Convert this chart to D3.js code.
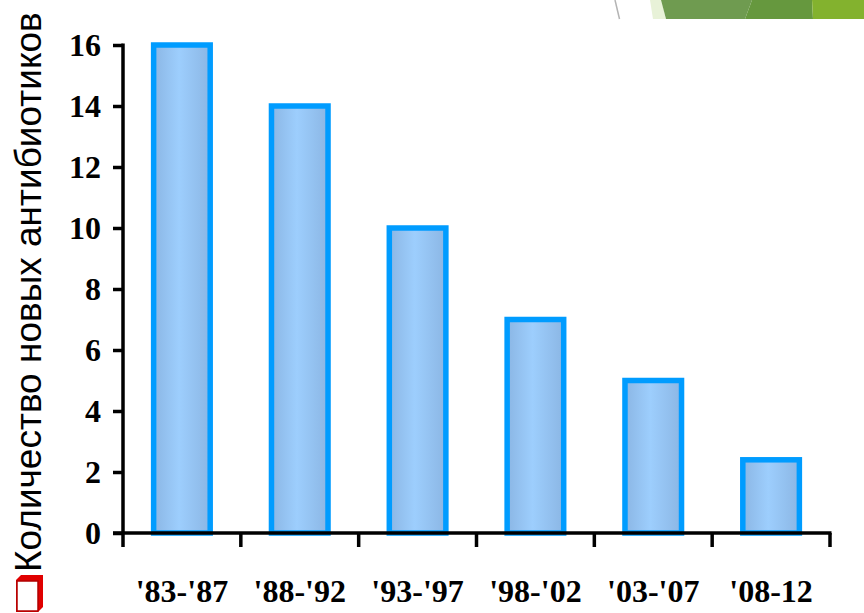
<!DOCTYPE html>
<html>
<head>
<meta charset="utf-8">
<script src="https://cdn.jsdelivr.net/npm/d3@7"></script>
<style>
  html, body { margin: 0; padding: 0; background: #fff; }
  svg { display: block; }
</style>
</head>
<body>
<div id="chart"></div>
<script>
const periods = ["'83-'87", "'88-'92", "'93-'97", "'98-'02", "'03-'07", "'08-12"];
const approvals = [16, 14, 10, 7, 5, 2.4];
const yTicks = [0, 2, 4, 6, 8, 10, 12, 14, 16];
const yTitle = "Количество новых антибиотиков";

const width = 864;
const height = 613;
const plotLeft = 123, plotRight = 830, plotTop = 45, plotBottom = 533;
const axisWidth = 3.5;

const svg = d3.select("#chart").append("svg")
  .attr("width", width)
  .attr("height", height);

// slide theme decoration in the top right corner
const deco = svg.append("g");
deco.append("line")
  .attr("x1", 615).attr("y1", 0).attr("x2", 619.5).attr("y2", 19)
  .attr("stroke", "#b4b4b4").attr("stroke-width", 1.5);
[
  { pts: [[650, 0], [661, 0], [666, 19], [653, 19]], color: "#e8f2d8" },
  { pts: [[661, 0], [752, 0], [745, 19], [666, 19]], color: "#6f9b50" },
  { pts: [[752, 0], [812, 0], [813, 19], [745, 19]], color: "#66983e" },
  { pts: [[812, 0], [864, 0], [864, 19], [813, 19]], color: "#83b22e" }
].forEach(p => {
  deco.append("polygon")
    .attr("points", p.pts.map(d => d.join(",")).join(" "))
    .attr("fill", p.color);
});

const defs = svg.append("defs");
const grad = defs.append("linearGradient")
  .attr("id", "barFill")
  .attr("x1", "0").attr("x2", "1").attr("y1", "0").attr("y2", "0");
grad.append("stop").attr("offset", "0").attr("stop-color", "#8bb6e4");
grad.append("stop").attr("offset", "0.45").attr("stop-color", "#9dcefd");
grad.append("stop").attr("offset", "1").attr("stop-color", "#8bb6e4");

// scales
const x = d3.scaleBand()
  .domain(periods)
  .range([plotLeft, plotRight])
  .paddingInner(0.52)
  .paddingOuter(0.26);

const y = d3.scaleLinear()
  .domain([0, 16])
  .range([plotBottom, plotTop]);

// bars
svg.append("g")
  .selectAll()
  .data(periods)
  .join("rect")
    .attr("x", d => x(d))
    .attr("y", (d, i) => y(approvals[i]))
    .attr("width", x.bandwidth())
    .attr("height", (d, i) => y(0) - y(approvals[i]))
    .attr("fill", "url(#barFill)")
    .attr("stroke", "#009cff")
    .attr("stroke-width", 5.5);

// y axis
const yAxis = svg.append("g")
  .attr("transform", `translate(${plotLeft},0)`)
  .call(d3.axisLeft(y).tickValues(yTicks).tickSize(10).tickPadding(12).tickSizeOuter(0));
yAxis.select(".domain").remove();
yAxis.selectAll(".tick line").attr("stroke", "#000").attr("stroke-width", axisWidth);
yAxis.selectAll(".tick text")
  .attr("font-family", "'Liberation Serif', 'Times New Roman', serif")
  .attr("font-weight", "bold")
  .attr("font-size", 32)
  .attr("fill", "#000");
yAxis.append("line")
  .attr("x1", 0).attr("x2", 0)
  .attr("y1", y(16) - 1.5).attr("y2", plotBottom + 14)
  .attr("stroke", "#000").attr("stroke-width", axisWidth);

// x axis with ticks at category boundaries
const step = x.step();
const bounds = d3.range(periods.length + 1).map(i => plotLeft + i * step);
const xAxis = svg.append("g");
xAxis.append("line")
  .attr("x1", plotLeft - 10).attr("x2", plotRight + 1.5)
  .attr("y1", plotBottom).attr("y2", plotBottom)
  .attr("stroke", "#000").attr("stroke-width", axisWidth);
xAxis.selectAll(".bound")
  .data(bounds.slice(1))
  .join("line")
    .attr("class", "bound")
    .attr("x1", d => d).attr("x2", d => d)
    .attr("y1", plotBottom).attr("y2", plotBottom + 14)
    .attr("stroke", "#000").attr("stroke-width", axisWidth);
xAxis.selectAll(".label")
  .data(periods)
  .join("text")
    .attr("class", "label")
    .attr("x", d => x(d) + x.bandwidth() / 2)
    .attr("y", 602)
    .attr("text-anchor", "middle")
    .attr("font-family", "'Liberation Serif', 'Times New Roman', serif")
    .attr("font-weight", "bold")
    .attr("font-size", 32)
    .text(d => d);

// rotated title with red square bullet
const bullet = svg.append("g").attr("transform", "translate(16,612)");
bullet.append("polygon")
  .attr("points", "0,0 0,-32 5,-37 27,-37 27,-5 22,0")
  .attr("fill", "#e00000");
bullet.append("rect")
  .attr("x", 1).attr("y", -31).attr("width", 21).attr("height", 30)
  .attr("fill", "#fff").attr("stroke", "#b00000").attr("stroke-width", 1.5);

svg.append("text")
  .attr("transform", "translate(41,572) rotate(-90)")
  .attr("font-family", "'Liberation Sans', Arial, sans-serif")
  .attr("font-size", 37)
  .attr("fill", "#000")
  .text(yTitle);
</script>
</body>
</html>
